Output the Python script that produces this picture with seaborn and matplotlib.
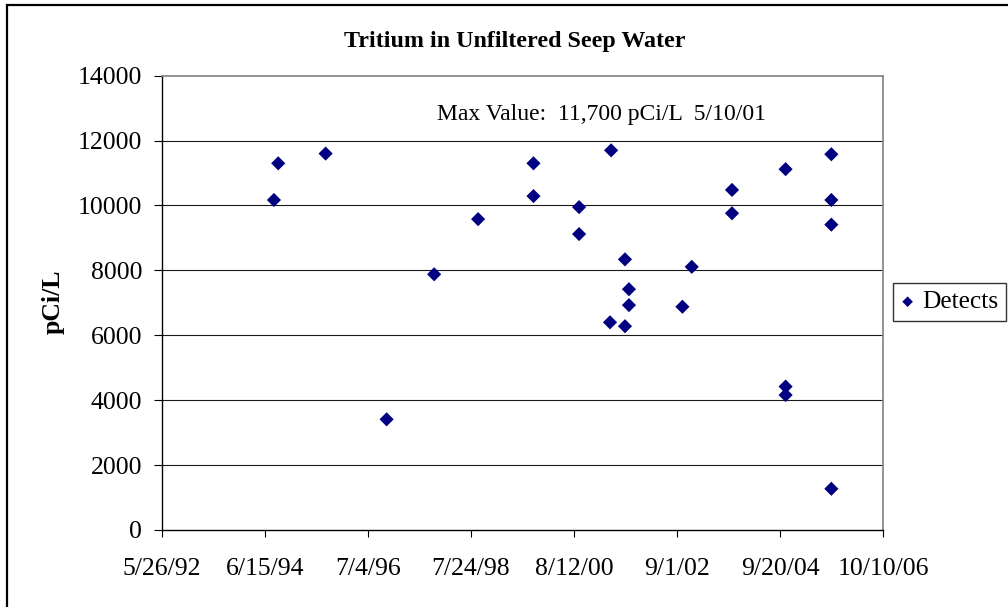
import matplotlib
matplotlib.use("Agg")
import matplotlib.pyplot as plt
from matplotlib.patches import Rectangle
import seaborn as sns
import pandas as pd

# ---- data ----
sample_dates = [
    "1994-08-21", "1994-09-21", "1995-09-01", "1996-11-18", "1997-10-30",
    "1998-09-15", "1999-10-23", "1999-10-23", "2000-09-19", "2000-09-19",
    "2001-05-02", "2001-05-10", "2001-08-19", "2001-08-19", "2001-09-17",
    "2001-09-17", "2002-10-11", "2002-12-18", "2003-10-07", "2003-10-07",
    "2004-10-31", "2004-10-31", "2004-10-31", "2005-09-29", "2005-09-29",
    "2005-09-29", "2005-09-29",
]
tritium_pci_l = [
    10170, 11300, 11600, 3410, 7880,
    9580, 11300, 10290, 9950, 9120,
    6400, 11700, 8340, 6280, 7420,
    6930, 6880, 8110, 10480, 9760,
    11120, 4420, 4160, 11580, 10170,
    9410, 1270,
]
x_tick_labels = ["5/26/92", "6/15/94", "7/4/96", "7/24/98", "8/12/00",
                 "9/1/02", "9/20/04", "10/10/06"]
y_ticks = [0, 2000, 4000, 6000, 8000, 10000, 12000, 14000]
series_name = "Detects"
title_text = "Tritium in Unfiltered Seep Water"
y_label = "pCi/L"
note_text = "Max Value:  11,700 pCi/L  5/10/01"

df = pd.DataFrame({"date": pd.to_datetime(sample_dates), "value": tritium_pci_l})
x_ticks = pd.to_datetime(x_tick_labels, format="%m/%d/%y")

# ---- styling ----
sns.set_theme(style="white")
plt.rcParams["font.family"] = ["Liberation Serif", "DejaVu Serif"]
plt.rcParams["text.color"] = "black"
plt.rcParams["xtick.color"] = "black"
plt.rcParams["ytick.color"] = "black"
plt.rcParams["xtick.labelcolor"] = "black"
plt.rcParams["ytick.labelcolor"] = "black"

W, H = 1008, 607
fig = plt.figure(figsize=(W / 100, H / 100), dpi=100)
fig.patch.set_facecolor("white")

left, right, top, bottom = 161.7, 883.0, 75.7, 530.0
ax = fig.add_axes([left / W, 1 - bottom / H, (right - left) / W, (bottom - top) / H])

sns.scatterplot(data=df, x="date", y="value", ax=ax, marker="D", s=52,
                color="#000080", edgecolor="none", linewidth=0,
                label=series_name, zorder=3)

ax.set_xlim(x_ticks[0], x_ticks[-1])
ax.set_ylim(y_ticks[0], y_ticks[-1])
ax.set_xticks(x_ticks)
ax.set_xticklabels(x_tick_labels)
ax.set_yticks(y_ticks)
ax.set_yticklabels([str(v) for v in y_ticks])
ax.set_xlabel("")
ax.set_ylabel("")

for yv in y_ticks[1:-1]:
    ax.axhline(yv, color="#1a1a1a", lw=0.8, zorder=1)

for s in ["left", "bottom"]:
    ax.spines[s].set_color("black")
    ax.spines[s].set_linewidth(1.0)
for s in ["top", "right"]:
    ax.spines[s].set_color("#808080")
    ax.spines[s].set_linewidth(1.2)

ax.tick_params(axis="y", direction="out", length=6, width=0.8, color="black",
               labelcolor="black", pad=8, labelsize=18.5, left=True)
ax.tick_params(axis="x", direction="out", length=5, width=0.8, color="black",
               labelcolor="black", pad=15, labelsize=18.5, bottom=True)

# title, axis label, annotation
fig.text(515 / W, 1 - 47 / H, title_text, ha="center", va="baseline",
         fontsize=17.3, fontweight="bold", color="black")
fig.text(53 / W, 1 - 302 / H, y_label, ha="center", va="center",
         rotation=90, fontsize=18.5, fontweight="bold", color="black")
fig.text(437 / W, 1 - 120 / H, note_text, ha="left", va="baseline",
         fontsize=17, color="black")

# legend
leg = ax.legend(loc="center left", bbox_to_anchor=(893 / W, 1 - 302 / H),
                bbox_transform=fig.transFigure, frameon=True, fancybox=False,
                fontsize=18.3, markerscale=0.75, handlelength=0.55,
                handletextpad=0.3, borderpad=0.3, borderaxespad=0,
                labelcolor="black")
leg.get_frame().set_edgecolor("black")
leg.get_frame().set_linewidth(1.0)

# outer chart border
fig.patches.append(Rectangle((7 / W, -0.2), 1.5, (1 - 5 / H) + 0.2,
                             transform=fig.transFigure, fill=False,
                             ec="black", lw=1.6, zorder=0))

fig.savefig("out.png", dpi=100, facecolor="white")
